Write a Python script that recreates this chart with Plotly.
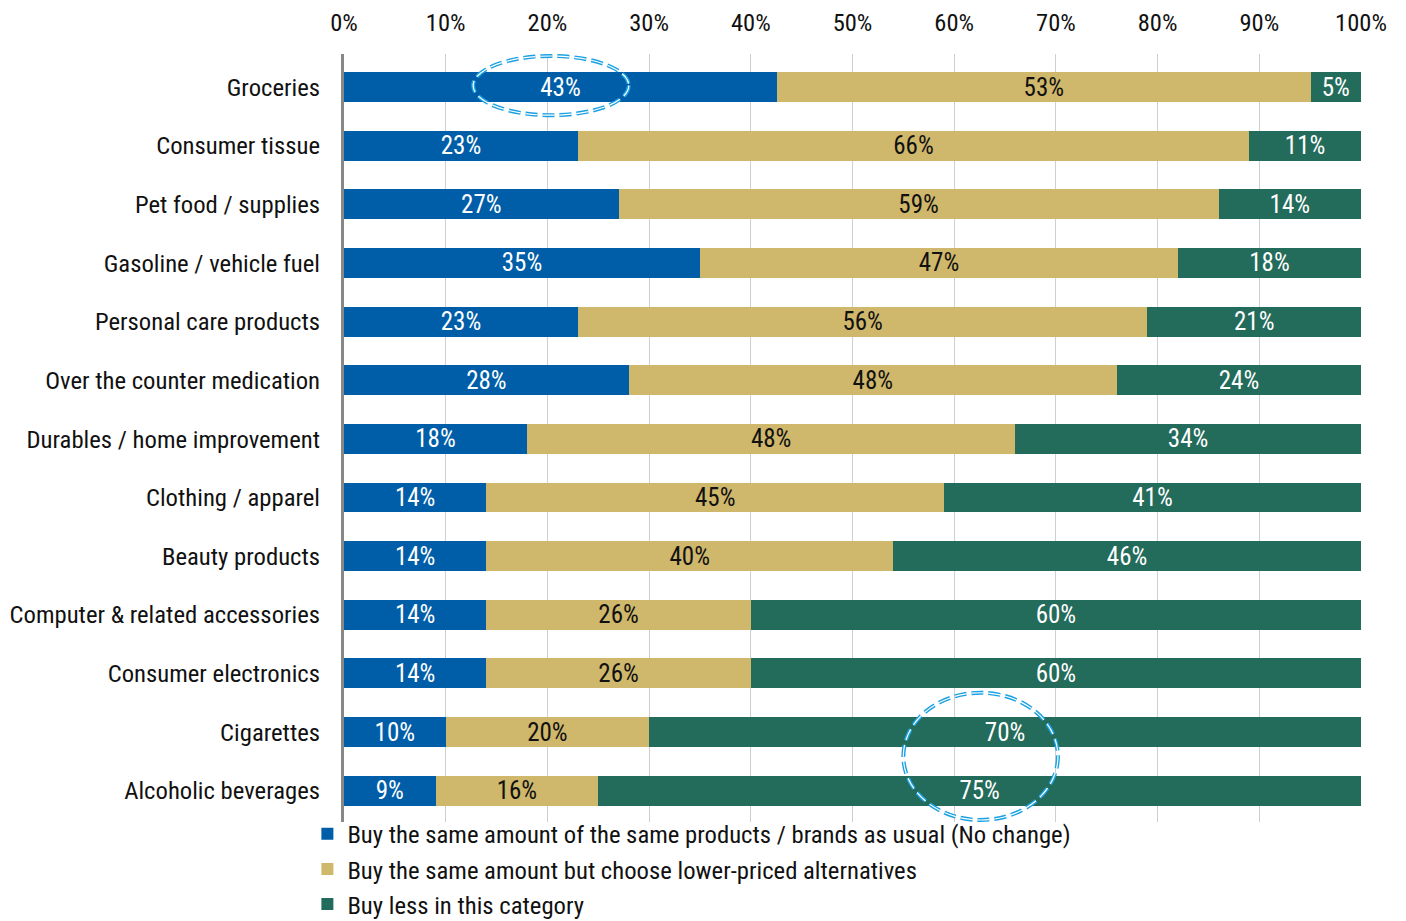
import plotly.graph_objects as go

categories = [
    "Groceries",
    "Consumer tissue",
    "Pet food / supplies",
    "Gasoline / vehicle fuel",
    "Personal care products",
    "Over the counter medication",
    "Durables / home improvement",
    "Clothing / apparel",
    "Beauty products",
    "Computer & related accessories",
    "Consumer electronics",
    "Cigarettes",
    "Alcoholic beverages",
]
no_change = [43, 23, 27, 35, 23, 28, 18, 14, 14, 14, 14, 10, 9]
lower_priced = [53, 66, 59, 47, 56, 48, 48, 45, 40, 26, 26, 20, 16]
buy_less = [5, 11, 14, 18, 21, 24, 34, 41, 46, 60, 60, 70, 75]

series_names = [
    "Buy the same amount of the same products / brands as usual (No change)",
    "Buy the same amount but choose lower-priced alternatives",
    "Buy less in this category",
]
series_values = [no_change, lower_priced, buy_less]
series_colors = ["#005EA8", "#CFB76B", "#236B5A"]
label_colors = ["#FFFFFF", "#111111", "#FFFFFF"]

FONT = "Roboto Condensed, Liberation Sans Narrow, Arial Narrow, DejaVu Sans Condensed, Roboto, sans-serif"

fig = go.Figure()
for i, (name, vals, col, tcol) in enumerate(zip(series_names, series_values, series_colors, label_colors)):
    fig.add_trace(go.Bar(
        y=categories,
        x=vals,
        name=name,
        orientation="h",
        marker=dict(color=col, line=dict(width=0)),
        text=[f"{v}%" for v in vals],
        textposition="inside",
        insidetextanchor="middle",
        textangle=0,
        textfont=dict(family=FONT, size=25, color=tcol),
        constraintext="none",
        legendgroup=f"g{i}",
        hoverinfo="name+text",
    ))

# dashed highlight ellipses (double line: wide blue dash with a thin white core)
highlights = [
    dict(x0=12.7, x1=28.0, y0=-0.53, y1=0.48),
    dict(x0=55.0, x1=70.2, y0=10.33, y1=12.5),
]
for h in highlights:
    for w, c in ((4.0, "#1BA1E2"), (1.2, "#FFFFFF")):
        fig.add_shape(
            type="circle", xref="x", yref="y",
            x0=h["x0"], x1=h["x1"], y0=h["y0"], y1=h["y1"],
            line=dict(color=c, width=w, dash="12px,5px"),
            layer="above",
        )

fig.update_layout(
    barmode="stack",
    barnorm="percent",
    bargap=0.49,
    width=1406,
    height=921,
    margin=dict(l=344, r=45, t=54, b=99, autoexpand=False),
    paper_bgcolor="white",
    plot_bgcolor="white",
    font=dict(family=FONT, size=24, color="#111111"),
    showlegend=True,
    legend=dict(
        x=-0.036, xanchor="left",
        y=0.014, yanchor="top",
        font=dict(family=FONT, size=24.7, color="#111111"),
        traceorder="grouped",
        tracegroupgap=0,
        itemwidth=30,
        bgcolor="rgba(0,0,0,0)",
    ),
    xaxis=dict(
        side="top",
        range=[0, 100],
        dtick=10,
        ticksuffix="%",
        showgrid=True,
        gridcolor="#CFCFCF",
        gridwidth=1,
        zeroline=False,
        showline=False,
        ticks="",
        ticklabelstandoff=17,
        tickfont=dict(family=FONT, size=24.5, color="#111111"),
        fixedrange=True,
    ),
    yaxis=dict(
        autorange="reversed",
        showgrid=False,
        showline=True,
        linecolor="#888888",
        linewidth=3,
        ticks="",
        ticklabelstandoff=16,
        tickfont=dict(family=FONT, size=24.7, color="#111111"),
        fixedrange=True,
    ),
)

fig.write_html("out.html")
